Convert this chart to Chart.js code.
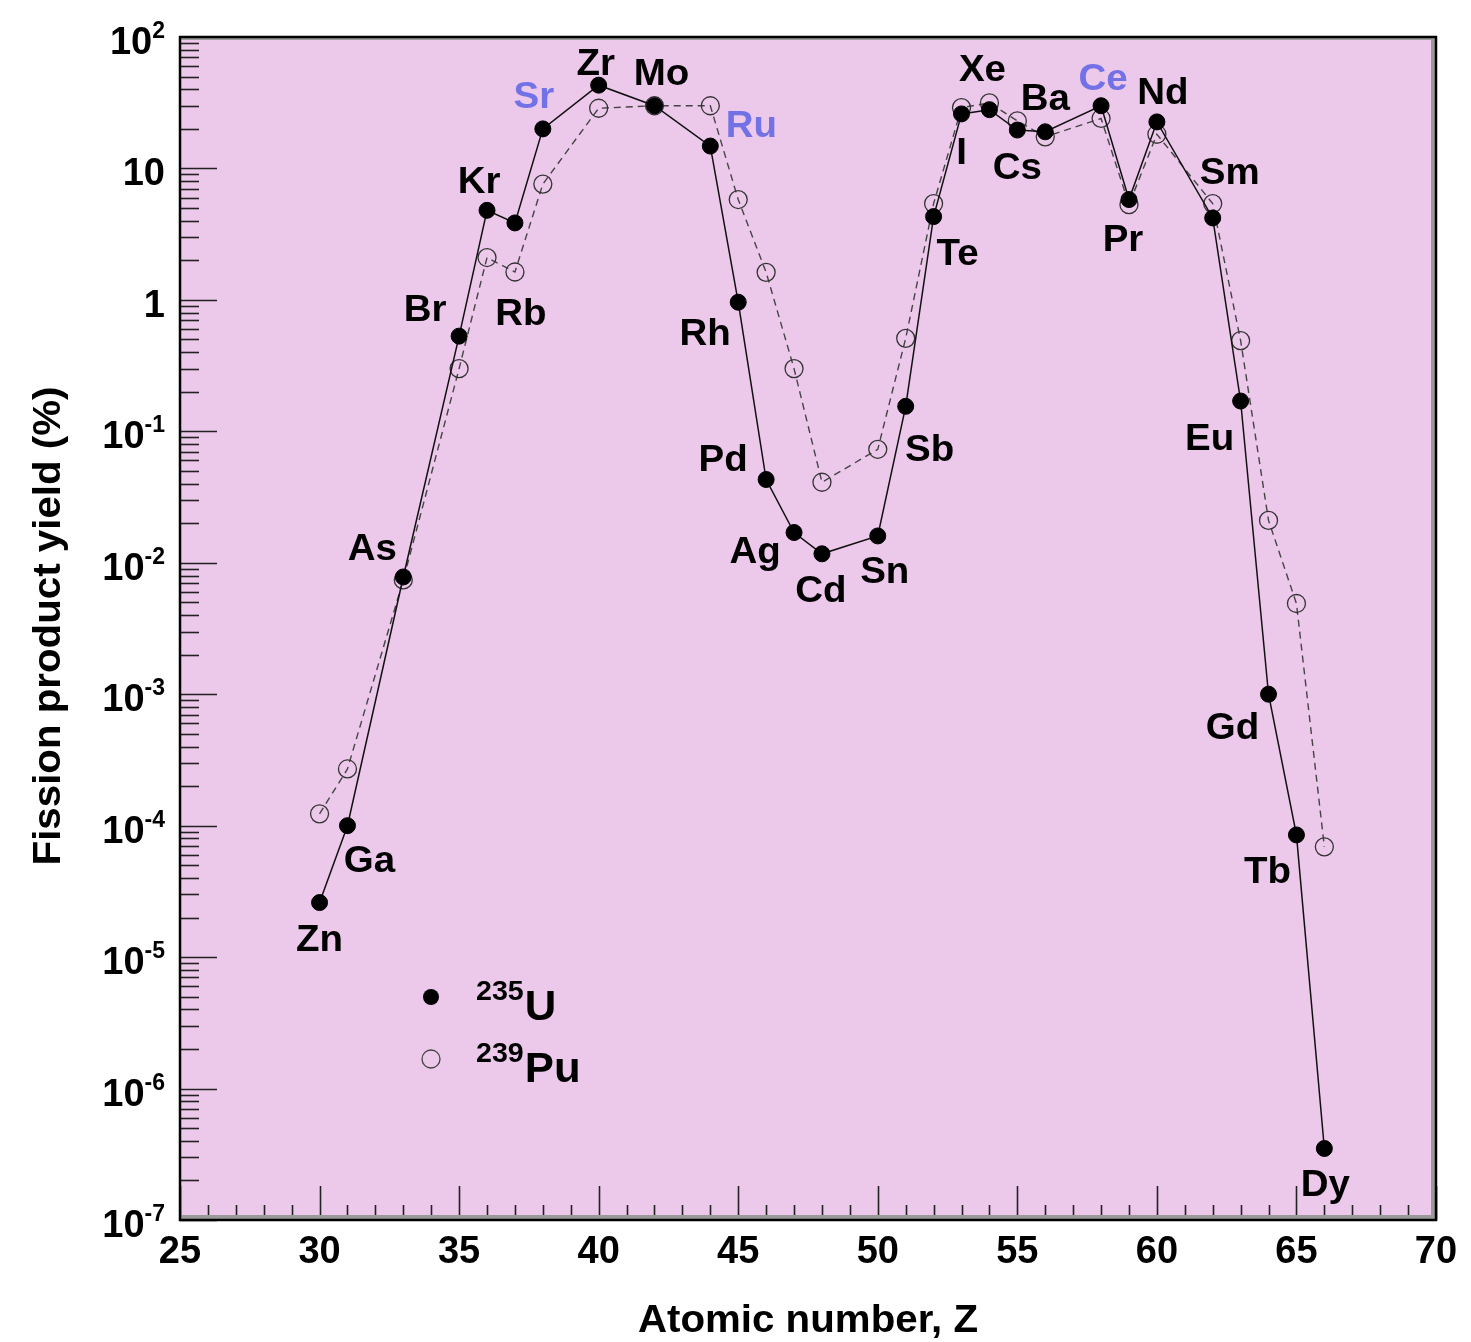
<!DOCTYPE html>
<html>
<head>
<meta charset="utf-8">
<script src="https://cdn.jsdelivr.net/npm/chart.js@4.4.0/dist/chart.umd.min.js"></script>
<style>
  html, body { margin: 0; padding: 0; background: #fff; }
</style>
</head>
<body>
<canvas id="yieldChart" width="1471" height="1342"></canvas>
<script>
const atomicNumbers = [30, 31, 33, 35, 36, 37, 38, 40, 42, 44, 45, 46, 47, 48, 50, 51, 52, 53, 54, 55, 56, 58, 59, 60, 62, 63, 64, 65, 66];
const elementNames = ['Zn', 'Ga', 'As', 'Br', 'Kr', 'Rb', 'Sr', 'Zr', 'Mo', 'Ru', 'Rh', 'Pd', 'Ag', 'Cd', 'Sn', 'Sb', 'Te', 'I', 'Xe', 'Cs', 'Ba', 'Ce', 'Pr', 'Nd', 'Sm', 'Eu', 'Gd', 'Tb', 'Dy'];
const yieldU235 = [2.6e-5, 1.0e-4, 7.8e-3, 0.53, 4.8, 3.85, 20, 43, 30, 14.8, 0.96, 0.043, 0.017, 0.0117, 0.016, 0.155, 4.3, 26, 28, 19.6, 19, 30, 5.8, 22.6, 4.2, 0.17, 1.0e-3, 8.5e-5, 3.5e-7];
const yieldPu239 = [1.23e-4, 2.7e-4, 7.4e-3, 0.30, 2.1, 1.63, 7.6, 28.7, 30, 30, 5.8, 1.62, 0.30, 0.041, 0.073, 0.51, 5.4, 29, 31.5, 23, 17.4, 24, 5.3, 18.2, 5.4, 0.49, 0.021, 4.9e-3, 6.9e-5];
const blueElements = ['Sr', 'Ru', 'Ce'];

const xTickValues = [25, 30, 35, 40, 45, 50, 55, 60, 65, 70];
const yTickExponents = [2, 1, 0, -1, -2, -3, -4, -5, -6, -7];

// label offsets (px) from the U-235 point, to the label centre
const labelOffsets = [
  [0, 35], [22, 33], [-31, -30], [-34, -28], [-8, -30], [6, 89], [-9, -34], [-3, -23], [7, -34], [41, -22],
  [-33, 30], [-43, -22], [-39, 18], [-1, 35], [7, 34], [24, 42], [24, 35], [0, 37], [-7, -42], [0, 36],
  [0, -35], [2, -29], [-6, 38], [6, -31], [17, -47], [-31, 36], [-36, 32], [-29, 35], [1, 35]
];

const FONT = '"Liberation Sans", Arial, Helvetica, sans-serif';

function txt(ctx, s, x, y, size, align, color, sx) {
  sx = sx || 1;
  ctx.save();
  ctx.font = 'bold ' + size + 'px ' + FONT;
  ctx.fillStyle = color || '#000';
  ctx.textBaseline = 'alphabetic';
  const w = ctx.measureText(s).width * sx;
  let left = x;
  if (align === 'center') left = x - w / 2;
  if (align === 'right') left = x - w;
  ctx.translate(left, y);
  ctx.scale(sx, 1);
  ctx.fillText(s, 0, 0);
  ctx.restore();
  return w;
}
function txtWidth(ctx, s, size) {
  ctx.save();
  ctx.font = 'bold ' + size + 'px ' + FONT;
  const w = ctx.measureText(s).width;
  ctx.restore();
  return w;
}

const backdrop = {
  id: 'backdrop',
  beforeDraw(chart) {
    const { ctx, chartArea: a } = chart;
    ctx.save();
    ctx.fillStyle = '#fff';
    ctx.fillRect(0, 0, chart.width, chart.height);
    ctx.fillStyle = '#ecc8ea';
    ctx.fillRect(a.left, a.top, a.right - a.left, a.bottom - a.top);
    ctx.restore();
  }
};

const frame = {
  id: 'frame',
  afterDraw(chart) {
    const { ctx, chartArea: a } = chart;
    const xs = chart.scales.x, ys = chart.scales.y;
    ctx.save();
    // ticks on the y axis
    ctx.strokeStyle = '#222';
    ctx.lineWidth = 1.6;
    for (let e = -7; e <= 2; e++) {
      for (let m = 1; m <= 9; m++) {
        if (e === 2 && m > 1) continue;
        const py = Math.round(ys.getPixelForValue(m * Math.pow(10, e))) + 0.5;
        const len = m === 1 ? 37 : 19;
        ctx.beginPath();
        ctx.moveTo(a.left, py);
        ctx.lineTo(a.left + len, py);
        ctx.stroke();
      }
    }
    // ticks on the x axis
    for (let z = 25; z <= 70; z++) {
      const px = Math.round(xs.getPixelForValue(z)) + 0.5;
      const len = z % 5 === 0 ? 34 : 15;
      ctx.beginPath();
      ctx.moveTo(px, a.bottom);
      ctx.lineTo(px, a.bottom - len);
      ctx.stroke();
    }
    // grey bands + black frame
    ctx.fillStyle = '#9a9a9a';
    ctx.fillRect(a.left, a.bottom - 5, a.right - a.left, 5);
    ctx.fillRect(a.right - 5, a.top, 5, a.bottom - a.top);
    ctx.fillRect(a.left, a.top, a.right - a.left, 3);
    ctx.strokeStyle = '#000';
    ctx.lineWidth = 2.5;
    ctx.strokeRect(a.left, a.top, a.right - a.left, a.bottom - a.top);

    // tick labels
    xTickValues.forEach(v => {
      txt(ctx, String(v), xs.getPixelForValue(v), a.bottom + 43, 38, 'center');
    });
    yTickExponents.forEach(e => {
      const py = ys.getPixelForValue(Math.pow(10, e));
      const right = a.left - 15;
      if (e === 0) { txt(ctx, '1', right, py + 17, 38, 'right'); return; }
      if (e === 1) { txt(ctx, '10', right, py + 17, 38, 'right'); return; }
      const sup = String(e);
      const ws = txtWidth(ctx, sup, 23);
      txt(ctx, sup, right, py + 1, 23, 'right');
      txt(ctx, '10', right - ws, py + 17, 38, 'right');
    });

    // axis titles
    txt(ctx, 'Atomic number, Z', (a.left + a.right) / 2, a.bottom + 112, 38, 'center', '#000', 1.06);
    ctx.save();
    ctx.translate(60, 626);
    ctx.rotate(-Math.PI / 2);
    txt(ctx, 'Fission product yield (%)', 0, 0, 38, 'center', '#000', 1.06);
    ctx.restore();

    // element labels
    const meta = chart.getDatasetMeta(0);
    meta.data.forEach((pt, i) => {
      const name = elementNames[i];
      const [dx, dy] = labelOffsets[i];
      const color = blueElements.includes(name) ? '#7272e6' : '#000';
      txt(ctx, name, pt.x + dx, pt.y + dy + 13, 37, 'center', color, 1.04);
    });

    // legend
    const lx = a.left + 251, ly1 = a.top + 960, ly2 = a.top + 1022;
    ctx.fillStyle = '#000';
    ctx.beginPath();
    ctx.arc(lx, ly1, 8, 0, Math.PI * 2);
    ctx.fill();
    ctx.strokeStyle = '#444';
    ctx.lineWidth = 1.3;
    ctx.beginPath();
    ctx.arc(lx, ly2, 9, 0, Math.PI * 2);
    ctx.stroke();
    let w = txt(ctx, '235', lx + 45, ly1 + 3, 27, 'left', '#000', 1.06);
    txt(ctx, 'U', lx + 45 + w + 1, ly1 + 23, 42, 'left', '#000', 1.04);
    w = txt(ctx, '239', lx + 45, ly2 + 3, 27, 'left', '#000', 1.06);
    txt(ctx, 'Pu', lx + 45 + w + 1, ly2 + 23, 42, 'left', '#000', 1.04);
    ctx.restore();
  }
};

new Chart(document.getElementById('yieldChart').getContext('2d'), {
  type: 'line',
  data: {
    datasets: [
      {
        label: '235U',
        data: atomicNumbers.map((z, i) => ({ x: z, y: yieldU235[i] })),
        borderColor: '#111',
        borderWidth: 1.5,
        pointRadius: 8,
        pointBackgroundColor: '#000',
        pointBorderColor: '#000',
        pointBorderWidth: 1,
        tension: 0
      },
      {
        label: '239Pu',
        data: atomicNumbers.map((z, i) => ({ x: z, y: yieldPu239[i] })),
        borderColor: '#444',
        borderWidth: 1.4,
        borderDash: [7, 5],
        pointRadius: 9,
        pointBackgroundColor: 'rgba(0,0,0,0)',
        pointBorderColor: '#333',
        pointBorderWidth: 1.3,
        tension: 0
      }
    ]
  },
  options: {
    responsive: false,
    animation: false,
    layout: { padding: { left: 180, top: 37, right: 35, bottom: 122 } },
    plugins: { legend: { display: false }, tooltip: { enabled: false } },
    scales: {
      x: { type: 'linear', min: 25, max: 70, display: false },
      y: { type: 'logarithmic', min: 1e-7, max: 100, display: false }
    }
  },
  plugins: [backdrop, frame]
});
</script>
</body>
</html>
